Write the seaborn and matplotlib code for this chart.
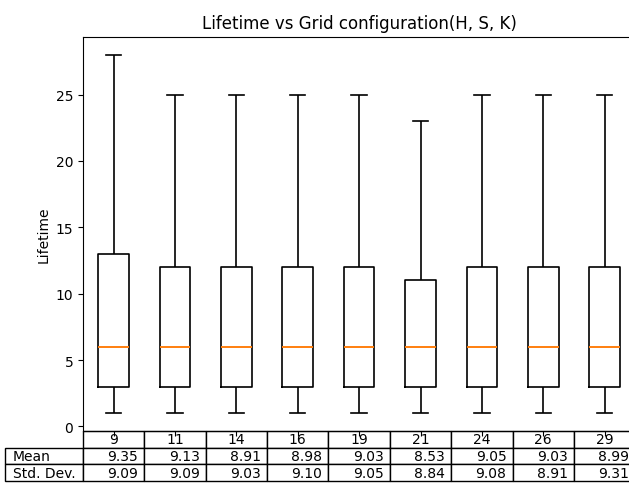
import matplotlib
matplotlib.use('Agg')
import matplotlib.pyplot as plt
import numpy as np
import pandas as pd
import seaborn as sns

grids = ['9', '11', '14', '16', '19', '21', '24', '26', '29']
low = [1, 1, 1, 1, 1, 1, 1, 1, 1]
q1 = [3, 3, 3, 3, 3, 3, 3, 3, 3]
med = [6, 6, 6, 6, 6, 6, 6, 6, 6]
q3 = [13, 12, 12, 12, 12, 11, 12, 12, 12]
high = [28, 25, 25, 25, 25, 23, 25, 25, 25]

means = [9.35, 9.13, 8.91, 8.98, 9.03, 8.53, 9.05, 9.03, 8.99]
stds = [9.09, 9.09, 9.03, 9.10, 9.05, 8.84, 9.08, 8.91, 9.31]

rows = []
for i, g in enumerate(grids):
    for v in [low[i], q1[i], med[i], q3[i], high[i]]:
        rows.append({'grid': g, 'lifetime': v})
df = pd.DataFrame(rows)

fig = plt.figure(figsize=(6.29, 4.85), dpi=100)
ax = fig.add_axes([0.132, 0.109, 0.878, 0.813])

sns.boxplot(data=df, x='grid', y='lifetime', order=grids, width=0.5,
            fill=False, color='black', linewidth=1.2, showfliers=False,
            medianprops={'color': '#ff7f0e', 'linewidth': 1.4}, ax=ax)

ax.set_xticklabels([])
ax.set_xlabel('')
ax.set_ylabel('Lifetime')
ax.set_title('Lifetime vs Grid configuration(H, S, K)')

# summary table under the plot
tab = ax.table(cellText=[['%.2f' % m for m in means], ['%.2f' % s for s in stds]],
               rowLabels=['Mean', 'Std. Dev.'], colLabels=grids, loc='bottom')
tab.auto_set_font_size(False)
tab.set_fontsize(10)
tab._autoColumns = []  # fixed width for row label column
for r in (1, 2):
    tab[r, -1].set_width(0.141)

fig.savefig('out.png')
